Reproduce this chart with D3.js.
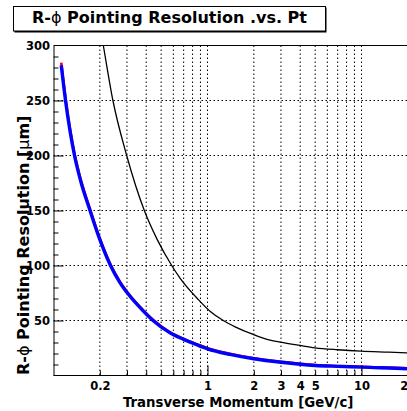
<!DOCTYPE html>
<html>
<head>
<meta charset="utf-8">
<script src="https://cdn.jsdelivr.net/npm/d3@7"></script>
<style>
  html, body { margin: 0; padding: 0; background: #fff; }
  svg { display: block; }
  text { font-family: "DejaVu Sans", sans-serif; font-weight: bold; fill: #000; }
  .tick-label text { font-size: 11.5px; }
</style>
</head>
<body>
<svg id="chart" width="407" height="411"></svg>
<script>
// Transverse momentum samples [GeV/c] for the two inner-layer curves
const ptInner = [0.1123, 0.1197, 0.1369, 0.15, 0.1726, 0.2, 0.2345, 0.27, 0.3139, 0.37,
                 0.4427, 0.5707, 0.7, 0.85, 1.0, 1.4, 2.0, 3.0, 5.0, 7.0, 10, 20, 25];
// R-phi pointing resolution [um]
const resBlue = [282, 250, 200, 177, 150, 123.5, 100, 84.5, 72, 60.8,
                 50, 38.8, 32.8, 28, 24.3, 19.2, 15.2, 12, 9.1, 8.3, 7.6, 6.1, 5.8];
const resRed  = [284.5, 252, 201.8, 178.6, 151.3, 124.6, 100.9, 85.3, 72.7, 61.4,
                 50.6, 39.3, 33.3, 28.5, 24.8, 19.7, 15.6, 12.4, 9.5, 8.7, 8.0, 6.5, 6.2];
// Outer curve
const ptOuter  = [0.2, 0.2106, 0.2431, 0.2987, 0.3888, 0.47, 0.5855, 0.663, 0.872, 1.038,
                  1.266, 1.5, 1.98, 2.55, 2.96, 3.98, 4.98, 7, 9.9, 15, 19.6, 25];
const resBlack = [318, 300, 250, 200, 150, 124, 100, 88.5, 69, 58.5,
                  50, 44.5, 37.3, 32.1, 30.3, 27.3, 25.2, 23.4, 22.1, 21.2, 20.6, 20.3];

// Axis ticks and labels
const xGridValues  = [0.2, 0.3, 0.4, 0.5, 0.6, 0.7, 0.8, 0.9, 1, 2, 3, 4, 5, 6, 7, 8, 9, 10, 20];
const xMajorTicks  = [1, 10];
const xMinorTicks  = [0.2, 0.3, 0.4, 0.5, 0.6, 0.7, 0.8, 0.9, 2, 3, 4, 5, 6, 7, 8, 9, 20];
const xTickLabels  = [0.2, 1, 2, 3, 4, 5, 10, 20];
const yGridValues  = [50, 100, 150, 200, 250];
const yTickLabels  = [50, 100, 150, 200, 250, 300];
const yMinorTicks  = d3.range(10, 300, 10).filter(v => v % 50 !== 0);
const yMajorTicks  = [50, 100, 150, 200, 250];

const svg = d3.select("#chart");
svg.append("rect").attr("width", 407).attr("height", 411).attr("fill", "#fff");

const plotLeft = 53.5, plotTop = 45.5, plotBottom = 375.5, decade = 154;
const x = d3.scaleLog().domain([0.1, 25]).range([plotLeft, plotLeft + decade * Math.log10(250)]);
const y = d3.scaleLinear().domain([0, 300]).range([plotBottom, plotTop]);

// Clip region for the plotted area
svg.append("clipPath").attr("id", "plotArea")
  .append("rect").attr("x", plotLeft).attr("y", plotTop).attr("width", 420).attr("height", plotBottom - plotTop);

// Dotted grid
const grid = svg.append("g").attr("stroke", "#000").attr("stroke-width", 1)
  .attr("stroke-dasharray", "1.5,2.5").attr("clip-path", "url(#plotArea)");
grid.selectAll("line.gx").data(xGridValues).join("line").attr("class", "gx")
  .attr("x1", d => x(d)).attr("x2", d => x(d)).attr("y1", plotTop).attr("y2", plotBottom);
grid.selectAll("line.gy").data(yGridValues).join("line").attr("class", "gy")
  .attr("x1", plotLeft).attr("x2", 420).attr("y1", d => y(d)).attr("y2", d => y(d));

// Curves
const curves = svg.append("g").attr("clip-path", "url(#plotArea)").attr("fill", "none");
const lineOf = (pts) => d3.line().x((d, i) => x(pts[i])).y(d => y(d)).curve(d3.curveMonotoneX);
curves.append("path").datum(resRed).attr("d", lineOf(ptInner))
  .attr("stroke", "#ff0000").attr("stroke-width", 2.6);
curves.append("path").datum(resBlue).attr("d", lineOf(ptInner))
  .attr("stroke", "#0000ff").attr("stroke-width", 3.4);
curves.append("path").datum(resBlack).attr("d", lineOf(ptOuter))
  .attr("stroke", "#000").attr("stroke-width", 1.3);

// X axis: frame line, inward ticks, labels
const gx = svg.append("g").attr("transform", `translate(0,${plotBottom})`);
gx.call(d3.axisBottom(x).tickValues(xMinorTicks).tickSize(-5).tickSizeOuter(0).tickFormat(""));
gx.select(".domain").attr("d", `M${plotLeft},0H420`);
const gxMaj = svg.append("g").attr("transform", `translate(0,${plotBottom})`);
gxMaj.call(d3.axisBottom(x).tickValues(xMajorTicks).tickSize(-10).tickSizeOuter(0).tickFormat(""));
gxMaj.select(".domain").remove();
const gxLab = svg.append("g").attr("class", "tick-label").attr("transform", `translate(0,${plotBottom})`);
gxLab.call(d3.axisBottom(x).tickValues(xTickLabels).tickSize(0).tickPadding(6).tickFormat(d3.format("~g")));
gxLab.select(".domain").remove();

// Y axis
const gy = svg.append("g").attr("transform", `translate(${plotLeft},0)`);
gy.call(d3.axisLeft(y).tickValues(yMinorTicks).tickSize(-5).tickSizeOuter(0).tickFormat(""));
const gyMaj = svg.append("g").attr("transform", `translate(${plotLeft},0)`);
gyMaj.call(d3.axisLeft(y).tickValues(yMajorTicks).tickSize(-10).tickSizeOuter(0).tickFormat(""));
gyMaj.select(".domain").remove();
const gyLab = svg.append("g").attr("class", "tick-label").attr("transform", `translate(${plotLeft},0)`);
gyLab.call(d3.axisLeft(y).tickValues(yTickLabels).tickSize(0).tickPadding(3.5).tickFormat(d3.format("~g")));
gyLab.select(".domain").remove();
gyLab.selectAll("text").attr("dy", "0.36em");

// Top frame line
svg.append("line").attr("x1", plotLeft).attr("x2", 420).attr("y1", plotTop).attr("y2", plotTop)
  .attr("stroke", "#000").attr("stroke-width", 1);

// Axis titles
const xMid = (x.range()[0] + x.range()[1]) / 2;
svg.append("text").attr("x", xMid).attr("y", 406.5).attr("text-anchor", "middle")
  .attr("font-size", 13.3).text("Transverse Momentum [GeV/c]");

const yt = svg.append("text").attr("transform", "translate(28.5,375) rotate(-90)")
  .attr("text-anchor", "start").attr("font-size", 16);
yt.append("tspan").text("R-");
yt.append("tspan").style("font-weight", "normal").text("\u03D5");
yt.append("tspan").text(" Pointing Resolution [");
yt.append("tspan").style("font-weight", "normal").text("\u03BC");
yt.append("tspan").text("m]");

// Title box with shadow
svg.append("rect").attr("x", 14.5).attr("y", 7.5).attr("width", 312).attr("height", 25)
  .attr("fill", "#000");
svg.append("rect").attr("x", 13.5).attr("y", 6.5).attr("width", 312).attr("height", 24.5)
  .attr("fill", "#fff").attr("stroke", "#000").attr("stroke-width", 1);
const title = svg.append("text").attr("x", 169.5).attr("y", 23.3).attr("text-anchor", "middle")
  .attr("font-size", 16);
title.append("tspan").text("R-");
title.append("tspan").style("font-weight", "normal").text("\u03D5");
title.append("tspan").text(" Pointing Resolution .vs. Pt");
</script>
</body>
</html>
